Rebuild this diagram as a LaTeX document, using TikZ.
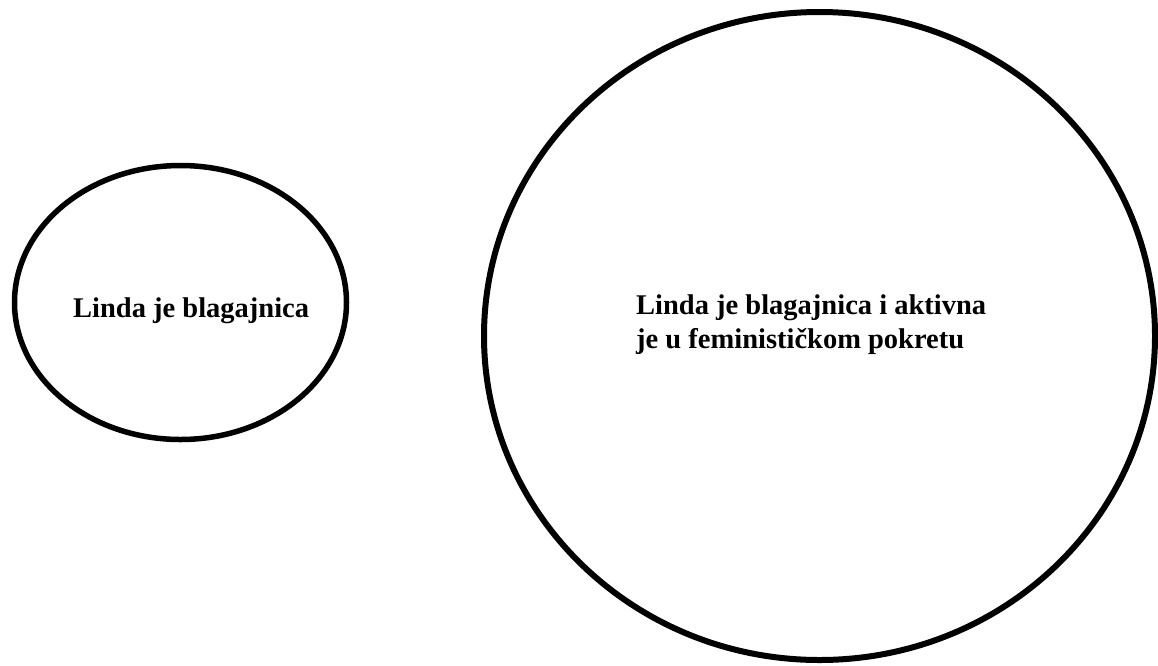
\documentclass[tikz,border=0pt]{standalone}
\usepackage{fontspec}
\setmainfont{Liberation Serif}
\usetikzlibrary{shapes.geometric}
\tikzset{
  ring/.style={draw=black, ellipse, inner sep=0pt, line width=5.5pt},
  label text/.style={anchor=base west, inner sep=0pt, align=left,
    font=\bfseries\fontsize{28.5}{34}\selectfont}
}
\begin{document}
\begin{tikzpicture}[x=1pt,y=-1pt]
\useasboundingbox (0,0) rectangle (1158,665);
\node[ring, minimum width=332pt, minimum height=274pt] (left) at (180.5,302.5) {};
\node[ring, line width=6pt, minimum width=671pt, minimum height=648pt] (right) at (819.5,336) {};
\node[label text] (lt) at (73,317) {Linda je blagajnica};
\node[label text] (rt) at (636,348) {Linda je blagajnica i aktivna\\je u feministi\v{c}kom pokretu};
\end{tikzpicture}
\end{document}
